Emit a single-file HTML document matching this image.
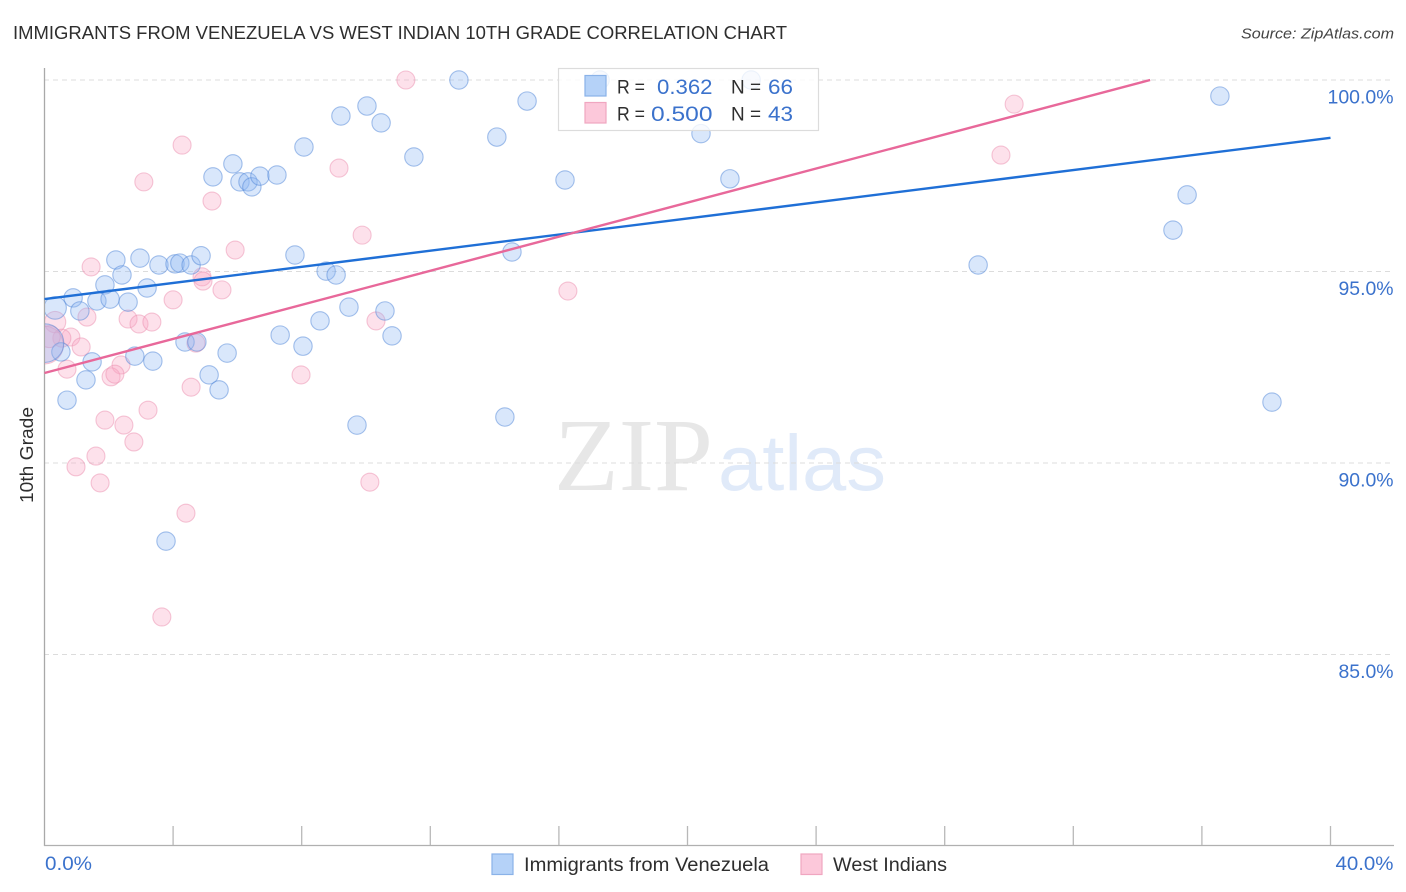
<!DOCTYPE html>
<html>
<head>
<meta charset="utf-8">
<title>Immigrants from Venezuela vs West Indian 10th Grade Correlation Chart</title>
<style>
html,body{margin:0;padding:0;background:#fff;}
svg{display:block;font-family:"Liberation Sans",sans-serif;}
</style>
</head>
<body>
<svg id="chart" xmlns="http://www.w3.org/2000/svg" width="1406" height="892" viewBox="0 0 1406 892">
  <defs><clipPath id="plot-clip"><rect x="45" y="60" width="1349" height="785"/></clipPath></defs>
  <rect width="1406" height="892" fill="#fff"/>
  <text x="13" y="39" font-size="18.5" fill="#2e2e2e" textLength="774" lengthAdjust="spacingAndGlyphs">IMMIGRANTS FROM VENEZUELA VS WEST INDIAN 10TH GRADE CORRELATION CHART</text>
  <text x="1394" y="38.5" font-size="15" font-style="italic" fill="#444" text-anchor="end" textLength="153" lengthAdjust="spacingAndGlyphs">Source: ZipAtlas.com</text>
  <text x="554" y="490" font-family="'Liberation Serif',serif" font-size="104" fill="#e7e7e7" textLength="159" lengthAdjust="spacingAndGlyphs">ZIP</text>
  <text x="718" y="490" font-family="'Liberation Sans',sans-serif" font-size="79" fill="#e0eaf9" textLength="168" lengthAdjust="spacingAndGlyphs">atlas</text>
  <g id="grid"></g>
  <g id="axes"></g>
  <g id="points" clip-path="url(#plot-clip)"></g>
  <g id="lines"></g>
  <text transform="translate(33 455) rotate(-90)" font-size="18" fill="#2e2e2e" text-anchor="middle" textLength="96" lengthAdjust="spacingAndGlyphs">10th Grade</text>
  <g id="tick-labels"></g>

  <g>
    <rect x="558.5" y="68.5" width="260" height="62" fill="#fff" fill-opacity="0.8" stroke="#dcdcdc" stroke-width="1.2"/>
    <rect x="585" y="75.5" width="21" height="20.5" fill="#b5d2f8" stroke="#8ab2e8" stroke-width="1.2"/>
    <rect x="585" y="102.5" width="21" height="20.5" fill="#fcc8da" stroke="#f0a6c0" stroke-width="1.2"/>
    <text x="617" y="93.5" font-size="19.5" fill="#2e2e2e" textLength="28" lengthAdjust="spacingAndGlyphs">R =</text>
    <text x="657" y="94" font-size="21.5" fill="#3b72cc" textLength="55.5" lengthAdjust="spacingAndGlyphs">0.362</text>
    <text x="731" y="93.5" font-size="19.5" fill="#2e2e2e" textLength="30" lengthAdjust="spacingAndGlyphs">N =</text>
    <text x="768" y="94" font-size="21.5" fill="#3b72cc" textLength="25" lengthAdjust="spacingAndGlyphs">66</text>
    <text x="617" y="120.5" font-size="19.5" fill="#2e2e2e" textLength="28" lengthAdjust="spacingAndGlyphs">R =</text>
    <text x="651" y="121" font-size="21.5" fill="#3b72cc" textLength="61.5" lengthAdjust="spacingAndGlyphs">0.500</text>
    <text x="731" y="120.5" font-size="19.5" fill="#2e2e2e" textLength="30" lengthAdjust="spacingAndGlyphs">N =</text>
    <text x="768" y="121" font-size="21.5" fill="#3b72cc" textLength="25" lengthAdjust="spacingAndGlyphs">43</text>
  </g>

  <g>
    <rect x="492" y="854" width="21" height="20.5" fill="#b5d2f8" stroke="#8ab2e8" stroke-width="1.2"/>
    <text x="524" y="871" font-size="19" fill="#2e2e2e" textLength="245" lengthAdjust="spacingAndGlyphs">Immigrants from Venezuela</text>
    <rect x="801" y="854" width="21" height="20.5" fill="#fcc8da" stroke="#f0a6c0" stroke-width="1.2"/>
    <text x="833" y="871" font-size="19" fill="#2e2e2e" textLength="114" lengthAdjust="spacingAndGlyphs">West Indians</text>
  </g>
</svg>
<script>
const yTickValues = [100, 95, 90, 85];
const yTickLabels = ['100.0%', '95.0%', '90.0%', '85.0%'];
const xTickValues = [0, 4, 8, 12, 16, 20, 24, 28, 32, 36, 40];
const xEndLabels = ['0.0%', '40.0%'];

const venezuelaX = [12.89,17.28,21.98,36.56,15.01,10.03,9.22,10.47,14.07,20.42,8.07,11.49,5.86,5.24,6.08,6.33,6.45,6.70,7.23,16.19,21.32,35.54,35.10,14.54,7.79,8.76,9.07,29.04,2.22,2.97,3.56,4.06,4.21,4.56,4.87,2.41,3.19,1.88,0.89,1.63,2.04,2.60,0.33,1.10,8.57,9.47,10.59,7.33,8.04,10.81,4.37,4.74,5.68,0.51,1.48,2.81,3.37,1.29,5.12,5.43,0.70,9.72,14.32,38.18,3.78,0.00];
const venezuelaY = [100,100,100,99.58,99.45,99.32,99.06,98.88,98.51,98.60,98.25,97.99,97.81,97.47,97.34,97.34,97.21,97.49,97.52,97.39,97.42,97.00,96.08,95.51,95.43,95.01,94.91,95.17,95.30,95.35,95.17,95.20,95.22,95.17,95.41,94.91,94.57,94.65,94.31,94.23,94.28,94.20,94.05,93.97,93.71,94.07,93.97,93.34,93.05,93.32,93.16,93.16,92.87,92.90,92.64,92.79,92.66,92.17,92.30,91.91,91.64,90.99,91.20,91.59,87.96,93.13];
const venezuelaWeight = [1,1,1,1,1,1,1,1,1,1,1,1,1,1,1,1,1,1,1,1,1,1,1,1,1,1,1,1,1,1,1,1,1,1,1,1,1,1,1,1,1,1,1.5,1,1,1,1,1,1,1,1,1,1,1,1,1,1,1,1,1,1,1,1,1,1,4.4];

const westIndianX = [11.24,30.16,29.75,4.28,9.16,3.09,5.21,9.88,5.93,1.45,4.90,4.93,5.52,16.28,4.00,1.32,0.33,2.60,2.94,3.34,10.31,0.82,0.54,4.71,1.14,0.70,2.38,2.07,2.19,7.98,4.56,3.22,1.88,2.47,2.78,1.60,0.98,1.73,10.12,4.40,3.65,0.00,0.15];
const westIndianY = [100,99.37,98.04,98.30,97.70,97.34,96.84,95.95,95.56,95.12,94.86,94.75,94.52,94.49,94.26,93.81,93.68,93.76,93.63,93.68,93.71,93.29,93.26,93.13,93.03,92.45,92.56,92.25,92.32,92.30,91.98,91.38,91.12,90.99,90.55,90.18,89.90,89.48,89.50,88.69,85.98,93.08,93.30];
const westIndianWeight = [1,1,1,1,1,1,1,1,1,1,1,1,1,1,1,1,1.4,1,1,1,1,1,1,1,1,1,1,1,1,1,1,1,1,1,1,1,1,1,1,1,1,4.4,1.5];

const venezuelaTrendX = [0, 40];
const venezuelaTrendY = [94.28, 98.49];
const westIndianTrendX = [0, 34.39];
const westIndianTrendY = [92.35, 100];

const NS = 'http://www.w3.org/2000/svg';
const xScale = v => 44.5 + v * 32.15;
const yScale = v => 80 + (100 - v) * 38.3;

function make(tag, attrs, parent) {
  const el = document.createElementNS(NS, tag);
  for (const k in attrs) el.setAttribute(k, attrs[k]);
  parent.appendChild(el);
  return el;
}

const grid = document.getElementById('grid');
const axes = document.getElementById('axes');
const points = document.getElementById('points');
const lines = document.getElementById('lines');
const tickLabels = document.getElementById('tick-labels');

yTickValues.forEach((v, i) => {
  const g = make('line', {x1: 44, x2: 1394, y1: yScale(v), y2: yScale(v), stroke: '#dcdcdc', 'stroke-width': 1, 'stroke-dasharray': '5 4'}, grid);
  
  
  const t = make('text', {x: 1393.5, y: yScale(v) + 23.5, 'text-anchor': 'end', 'font-size': 19.5, fill: '#3b72cc', textLength: yTickLabels[i].length * 11, lengthAdjust: 'spacingAndGlyphs'}, tickLabels);
  
  
  t.textContent = yTickLabels[i];
});

const yAxis = make('line', {x1: 44.5, x2: 44.5, y1: 68, y2: 846, stroke: '#a9a9a9', 'stroke-width': 1.3}, axes);


const xAxis = make('line', {x1: 44, x2: 1394, y1: 845.5, y2: 845.5, stroke: '#b0b0b0', 'stroke-width': 1.3}, axes);



xTickValues.slice(1).forEach(v => {
  const t = make('line', {x1: xScale(v), x2: xScale(v), y1: 826, y2: 845, stroke: '#b8b8b8', 'stroke-width': 1.3}, axes);
  
  
});

const xLabelLeft = make('text', {x: 45, y: 870, 'font-size': 19.5, fill: '#3b72cc', textLength: 47, lengthAdjust: 'spacingAndGlyphs'}, tickLabels);


xLabelLeft.textContent = xEndLabels[0];
const xLabelRight = make('text', {x: 1393.5, y: 870, 'text-anchor': 'end', 'font-size': 19.5, fill: '#3b72cc', textLength: 58, lengthAdjust: 'spacingAndGlyphs'}, tickLabels);


xLabelRight.textContent = xEndLabels[1];

westIndianX.forEach((v, i) => {
  const c = make('circle', {cx: xScale(v), cy: yScale(westIndianY[i]), r: 9 * Math.sqrt(westIndianWeight[i]), fill: '#f9a8c4', 'fill-opacity': 0.34, stroke: '#ec8fb0', 'stroke-opacity': 0.5, 'stroke-width': 1.1}, points);
  
  
});
venezuelaX.forEach((v, i) => {
  const c = make('circle', {cx: xScale(v), cy: yScale(venezuelaY[i]), r: 9.2 * Math.sqrt(venezuelaWeight[i]), fill: '#8fbaf3', 'fill-opacity': 0.34, stroke: '#4f86d8', 'stroke-opacity': 0.5, 'stroke-width': 1.1}, points);
  
  
});

const blueLine = make('line', {x1: xScale(venezuelaTrendX[0]), y1: yScale(venezuelaTrendY[0]), x2: xScale(venezuelaTrendX[1]), y2: yScale(venezuelaTrendY[1]), stroke: '#1f6fd6', 'stroke-width': 2.4}, lines);


const pinkLine = make('line', {x1: xScale(westIndianTrendX[0]), y1: yScale(westIndianTrendY[0]), x2: xScale(westIndianTrendX[1]), y2: yScale(westIndianTrendY[1]), stroke: '#e8689a', 'stroke-width': 2.4}, lines);


</script>
</body>
</html>
